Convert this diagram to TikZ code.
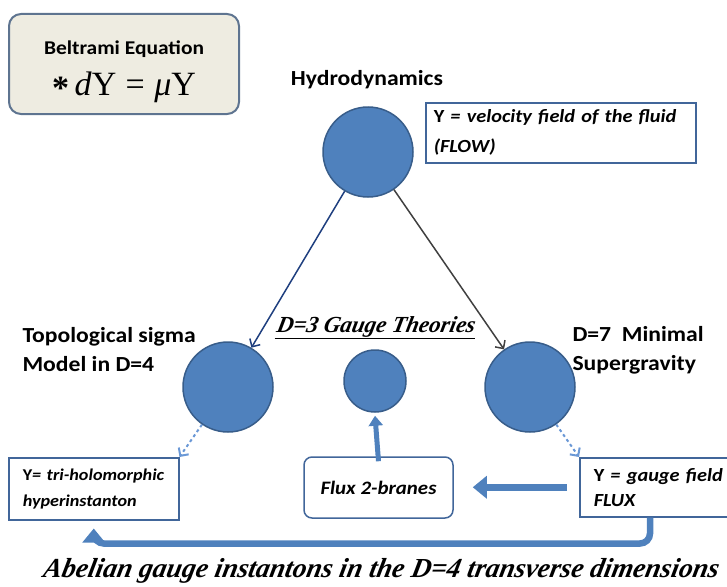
\documentclass[tikz,border=0pt]{standalone}
\usepackage{fontspec}
\setmainfont{Carlito}[FakeStretch=1.1]
\newfontfamily\brushfont[FakeSlant=0.2]{Liberation Serif}
\newfontfamily\eqfont{Liberation Serif}
\usetikzlibrary{arrows,arrows.meta}

\definecolor{ballfill}{HTML}{4F81BD}
\definecolor{balledge}{HTML}{385D8A}
\definecolor{boxedge}{HTML}{41669A}
\definecolor{beltfill}{HTML}{EEECE1}
\definecolor{beltedge}{HTML}{5E7490}
\definecolor{navy}{HTML}{1F3F7F}
\definecolor{darkgray}{HTML}{404040}
\definecolor{dashblue}{HTML}{6A98D6}

\begin{document}
\begin{tikzpicture}[x=1pt,y=-1pt,>={Straight Barb[length=6pt,width=12pt]},
  ball/.style={circle,draw=balledge,fill=ballfill,line width=1.5pt,inner sep=0pt,minimum size=#1},
  ball/.default=90pt,
  title text/.style={font=\fontsize{21.5}{29}\selectfont\bfseries,align=left},
  field box/.style={draw=boxedge,line width=1.5pt,fill=white,align=left,inner ysep=0pt},
  fat arrow/.style={draw=ballfill,line width=6.5pt,-{Triangle[width=22pt,length=14pt]}},
  thin arrow/.style={->,line width=1.5pt},
  faint arrow/.style={->,dashed,draw=dashblue,line width=2pt}]

  \useasboundingbox (0,0) rectangle (727,586);

  % equation box
  \node[draw=beltedge,fill=beltfill,line width=2pt,rounded corners=12pt,
    minimum width=230pt,minimum height=100pt,align=center] (beltrami) at (124,64)
    {\rule{0pt}{29pt}{\fontsize{19.5}{20}\selectfont\bfseries Beltrami Equation}\\[13pt]
     {\eqfont\fontsize{34}{34}\selectfont\raisebox{-4pt}{\textbf{*}}\,\textit{d}Y\;=\;\textit{μ}Y}};

  % the three theories
  \node[ball] (hydro) at (368,152) {};
  \node[ball] (sigma) at (228,387) {};
  \node[ball] (sugra) at (530,387) {};
  \node[ball=62pt] (gauge) at (375,381) {};

  \node[title text] (hydrolab) at (367,80) {Hydrodynamics};
  \node[title text,anchor=west] (sigmalab) at (19,350) {Topological sigma\\Model in D=4};
  \node[title text,anchor=west] (sugralab) at (569,350) {D=7~ Minimal\\Supergravity};

  \node[inner sep=1pt,font=\brushfont\fontsize{23}{25}\selectfont\bfseries\itshape] (d3title) at (375,327) {D=3 Gauge Theories};
  \draw[line width=1pt] (d3title.south west) -- (d3title.south east);

  % what Y is
  \node[field box,anchor=north west,minimum width=270pt,minimum height=60pt,text width=254pt,
    font=\fontsize{18.5}{30}\selectfont\bfseries\itshape] (flow) at (425,102)
    {{\upshape Y} = velocity field of the fluid\\(FLOW)};
  \node[field box,anchor=north west,minimum width=170pt,minimum height=62pt,text width=142pt,
    font=\fontsize{16.5}{26}\selectfont\bfseries\itshape] (hyper) at (8,457)
    {{\upshape Y}= tri-holomorphic\\hyperinstanton};
  \node[field box,anchor=north west,minimum width=160pt,minimum height=59pt,text width=132pt,
    font=\fontsize{18.5}{25}\selectfont\bfseries\itshape] (flux) at (579,457)
    {{\upshape Y} = gauge field\\FLUX};
  \node[draw=boxedge,line width=1.5pt,rounded corners=8pt,minimum width=149pt,minimum height=61pt,
    font=\fontsize{19}{20}\selectfont\bfseries\itshape] (branes) at (378.5,487.5) {Flux 2-branes};

  \draw[thin arrow,navy] (hydro) -- (sigma);
  \draw[thin arrow,darkgray] (hydro) -- (sugra);
  \draw[faint arrow] (sigma) -- (hyper.north east);
  \draw[faint arrow] (sugra) -- (flux.north west);

  \draw[fat arrow,line width=5pt,-{Triangle[width=14pt,length=10pt]}] ([yshift=-5pt]branes.north) -- ([yshift=-3pt]gauge.south);
  \draw[fat arrow] ([xshift=-12pt]flux.west) -- ([xshift=19pt]branes.east |- flux.west);
  \draw[fat arrow,rounded corners=10pt] ([xshift=71pt]flux.south west) |- ([yshift=-23pt]hyper.south)
    -- ([yshift=-8pt]hyper.south);

  \node[font=\brushfont\fontsize{27.5}{29}\selectfont\bfseries\itshape] (caption) at (380,571)
    {Abelian gauge instantons in the D=4 transverse dimensions};

\end{tikzpicture}
\end{document}
